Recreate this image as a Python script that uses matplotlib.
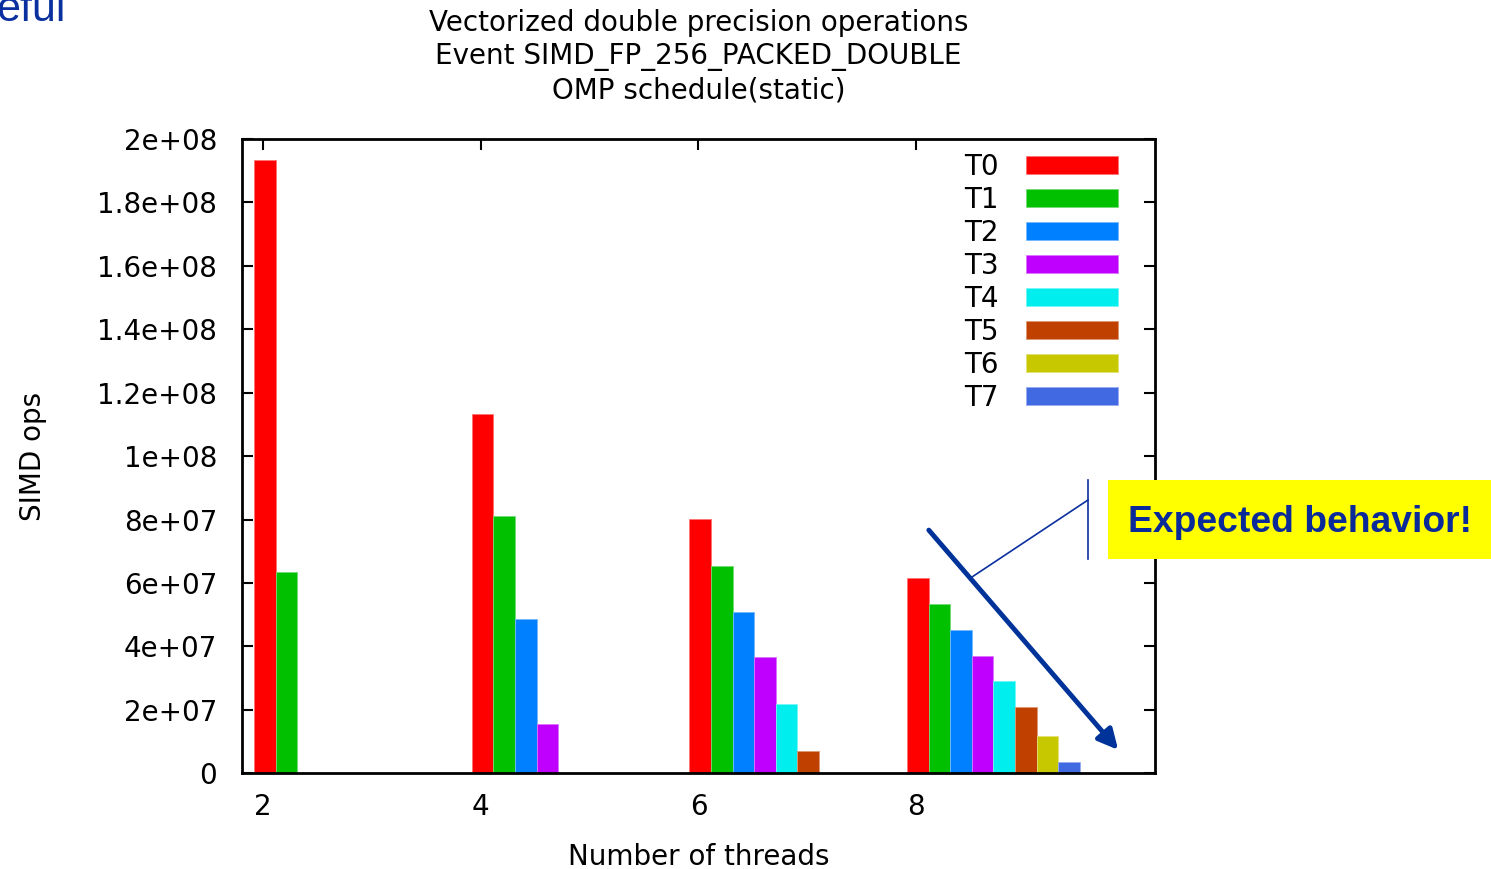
import numpy as np
import matplotlib.pyplot as plt
from matplotlib.patches import Rectangle, FancyArrowPatch
from matplotlib.lines import Line2D
from matplotlib.colors import to_rgb

# data
threads = [2, 4, 6, 8]
series = ["T0", "T1", "T2", "T3", "T4", "T5", "T6", "T7"]
colors = ["#ff0000", "#00c000", "#0080ff", "#c000ff",
          "#00eeee", "#c04000", "#c8c800", "#4169e1"]
# SIMD ops per thread (one list per number of threads)
ops_2 = [1.934e8, 0.636e8]
ops_4 = [1.132e8, 0.811e8, 0.487e8, 0.155e8]
ops_6 = [0.802e8, 0.654e8, 0.509e8, 0.367e8, 0.218e8, 0.069e8]
ops_8 = [0.615e8, 0.533e8, 0.452e8, 0.371e8, 0.290e8, 0.208e8, 0.117e8, 0.036e8]
ops = [ops_2, ops_4, ops_6, ops_8]

yticks = [0, 2e7, 4e7, 6e7, 8e7, 1e8, 1.2e8, 1.4e8, 1.6e8, 1.8e8, 2e8]
ytick_labels = ["0", "2e+07", "4e+07", "6e+07", "8e+07", "1e+08",
                "1.2e+08", "1.4e+08", "1.6e+08", "1.8e+08", "2e+08"]

W, H = 1491, 869


def px(x, y):
    """pixel position (from top left) -> figure fraction"""
    return (x / W, 1 - y / H)


def lighter(c, f=0.45):
    r, g, b = to_rgb(c)
    return (r + (1 - r) * f, g + (1 - g) * f, b + (1 - b) * f)


plt.rcParams['font.family'] = ['DejaVu Sans']
fig = plt.figure(figsize=(W / 100, H / 100), dpi=100)
ax = fig.add_axes([242.3 / W, 1 - 773.3 / H, (1155 - 242.3) / W, (773.3 - 139) / H])

bar_w = 0.1985
offset = -0.083
for t, vals in zip(threads, ops):
    for i, v in enumerate(vals):
        ax.bar(t + offset + i * bar_w, v, width=bar_w, align="edge",
               color=colors[i], edgecolor=lighter(colors[i]), linewidth=0.6)

ax.set_xlim(1.807, 10.196)
ax.set_ylim(0, 2e8)
ax.set_xticks(threads)
ax.set_xticklabels([str(t) for t in threads])
ax.set_yticks(yticks)
ax.set_yticklabels(ytick_labels)
ax.set_axisbelow(True)
ax.tick_params(direction="in", length=8, width=1.5, top=True, right=True,
               labelsize=20, colors="black")
ax.tick_params(axis="x", pad=14)
ax.tick_params(axis="y", pad=18)
for s in ax.spines.values():
    s.set_linewidth(2)

ax.set_title("Vectorized double precision operations\n"
             "Event SIMD_FP_256_PACKED_DOUBLE\nOMP schedule(static)",
             fontsize=20, linespacing=1.24, pad=29)
ax.set_xlabel("Number of threads", fontsize=20, labelpad=16)
ax.set_ylabel("SIMD ops", fontsize=20, labelpad=36)

handles = [Rectangle((0, 0), 1, 1, facecolor=c, edgecolor=lighter(c), linewidth=0.6)
           for c in colors]
ax.legend(handles, series, loc="upper right", bbox_to_anchor=px(1118, 153),
          bbox_transform=fig.transFigure, frameon=False, markerfirst=False,
          fontsize=20, handlelength=3.3, handleheight=0.6, handletextpad=1.0,
          labelspacing=0.18, borderpad=0, borderaxespad=0)

# slide overlays
blue = "#0a30a0"
fig.text(-4 / W, 1 - 21 / H, "eful", fontsize=31, color=blue,
         family="Liberation Sans", ha="left", va="baseline")
fig.add_artist(FancyArrowPatch(px(927, 528), px(1120, 752),
                               transform=fig.transFigure,
                               arrowstyle="-|>,head_length=0.6,head_width=0.3",
                               mutation_scale=20, lw=3.5, color="#003399"))
fig.add_artist(Line2D([972 / W, 1088 / W], [1 - 577 / H, 1 - 500 / H],
                      transform=fig.transFigure, lw=1.2, color=blue))
fig.add_artist(Line2D([1088 / W, 1088 / W], [1 - 480 / H, 1 - 559 / H],
                      transform=fig.transFigure, lw=1.2, color=blue))
x0, y0 = px(1108, 559)
fig.add_artist(Rectangle((x0, y0), (1491 - 1108) / W, 79 / H,
                         transform=fig.transFigure, facecolor="#ffff00",
                         edgecolor="none"))
fig.text(1128 / W, 1 - 523 / H, "Expected behavior!", fontsize=26.8,
         fontweight="bold", family="Liberation Sans", color="#0a2a9a",
         ha="left", va="center")

fig.savefig("out.png", dpi=100)
